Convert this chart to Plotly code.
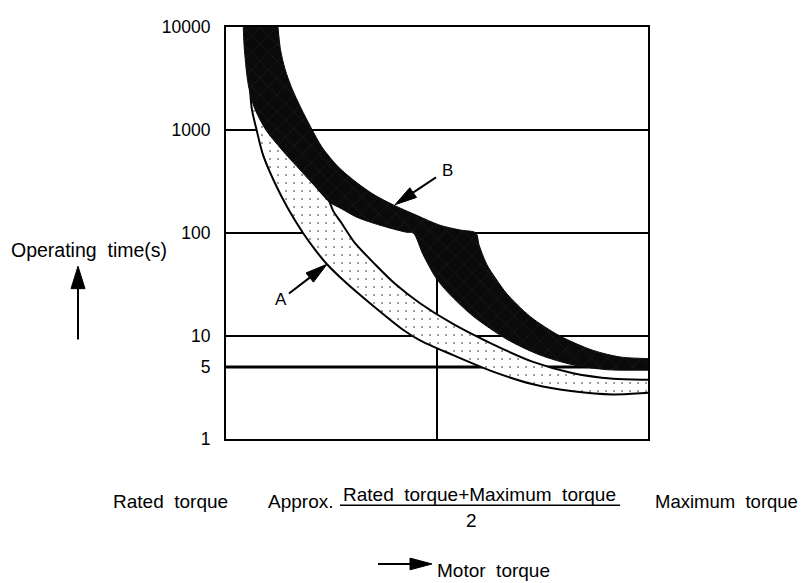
import plotly.graph_objects as go

# x: motor torque (0 = rated torque, 0.5 = approx. midpoint, 1 = maximum torque)
# y: operating time in seconds (log scale)
# (the bands run on slightly past the right frame, where they are clipped)

# Band B (black) - outer edge from top down to the right side
b_outer_x = [0.1232, 0.1291, 0.1398, 0.1564, 0.1777, 0.2014, 0.2275, 0.2654, 0.3057, 0.3483,
             0.3957, 0.4526, 0.5071, 0.5545, 0.5924,
             0.5995, 0.6178, 0.6398, 0.6652, 0.7204, 0.7915, 0.8704, 0.9336, 1.0, 1.03]
b_outer_y = [10000, 6053, 3911, 2529, 1634, 1056, 682, 441, 318, 239,
             188, 148, 119, 107, 100,
             76.9, 49.7, 35.9, 25.8, 15.5, 10.0, 7.24, 6.26, 6.03, 6.0]
# Band B - inner edge from the right side back up to the top
b_inner_x = [1.03, 1.0, 0.9028, 0.8223, 0.7441, 0.6659, 0.5853, 0.5284, 0.4976, 0.4668, 0.4438,
             0.4282, 0.3649, 0.3104, 0.2725, 0.2464, 0.2062, 0.1682, 0.1327, 0.0948,
             0.0675, 0.0545, 0.0491, 0.0427, 0.0410]
b_inner_y = [4.66, 4.66, 4.71, 5.25, 6.53, 9.27, 15.6, 25.8, 36.6, 61.9, 100,
             101.6, 119, 142, 173, 198, 298, 441, 640, 996,
             1634, 2529, 3508, 6750, 10000]

# Band A (dotted) - lower edge, left to right
a_lower_x = [0.0545, 0.0609, 0.0727, 0.0877, 0.1161, 0.1469, 0.1825, 0.2109, 0.2393,
             0.2820, 0.3412, 0.4194, 0.4597, 0.5379, 0.6327, 0.7275, 0.8223, 0.9171, 1.0, 1.03]
a_lower_y = [3911, 1634, 996, 573, 304, 173, 100, 69, 49.7,
             33.6, 20.8, 11.5, 9.06, 6.53, 4.51, 3.40, 2.91, 2.71, 2.81, 2.85]
# Band A - upper edge, right to left
a_upper_x = [1.03, 1.0, 0.9171, 0.8223, 0.7275, 0.6327, 0.5379, 0.4597, 0.4005, 0.3531,
             0.3033, 0.2725, 0.2536, 0.2441, 0.2180, 0.1801, 0.1422, 0.1043, 0.0758, 0.0640]
a_upper_y = [3.75, 3.76, 3.85, 4.35, 5.61, 8.3, 13.1, 20.8, 32.1, 49.7,
             82.2, 127, 165, 206, 304, 441, 640, 1011, 2033, 3911]

# Axis ticks / reference lines
y_ticks = [1, 5, 10, 100, 1000, 10000]
y_ticktext = ["1", "5", "10", "100", "1000", "10000"]
full_hlines = [10, 1000]
thick_hlines = [5]
hline_100_segments = [(0.0, 0.2), (0.5, 1.0)]
mid_torque = 0.5
mid_line_top = 100

FONT = "Liberation Sans, Arial, sans-serif"

fig = go.Figure()

# grid lines (drawn first so the bands cover them)
gx, gy = [], []
for v in full_hlines:
    gx += [0, 1, None]
    gy += [v, v, None]
for a, b in hline_100_segments:
    gx += [a, b, None]
    gy += [100, 100, None]
gx += [mid_torque, mid_torque, None]
gy += [1, mid_line_top, None]
fig.add_trace(go.Scatter(x=gx, y=gy, mode="lines", line=dict(color="black", width=2),
                         hoverinfo="skip", showlegend=False))
tx, ty = [], []
for v in thick_hlines:
    tx += [0, 1, None]
    ty += [v, v, None]
fig.add_trace(go.Scatter(x=tx, y=ty, mode="lines", line=dict(color="black", width=3),
                         hoverinfo="skip", showlegend=False))

# Band A
fig.add_trace(go.Scatter(
    x=a_lower_x + a_upper_x, y=a_lower_y + a_upper_y,
    mode="lines", fill="toself",
    line=dict(color="black", width=2, shape="spline", smoothing=0.8),
    fillcolor="white",
    fillpattern=dict(shape=".", fgcolor="black", bgcolor="white", size=8, solidity=0.05),
    hoverinfo="skip", showlegend=False))

# Band B
fig.add_trace(go.Scatter(
    x=b_outer_x + b_inner_x, y=b_outer_y + b_inner_y,
    mode="lines", fill="toself",
    line=dict(color="#0a0a0a", width=1, shape="spline", smoothing=0.8),
    fillcolor="#0a0a0a",
    fillpattern=dict(shape="x", fgcolor="#3c3c3c", bgcolor="#0a0a0a", size=12, solidity=0.08),
    hoverinfo="skip", showlegend=False))

shapes = []
PX = 422.0


def arrow(tail, tip, head_len=22, half_w=6, lw=2):
    (x0, y0), (x1, y1) = tail, tip
    dx, dy = (x1 - x0) * PX, (y1 - y0) * PX
    L = (dx * dx + dy * dy) ** 0.5
    ux, uy = dx / L, dy / L
    bx, by = x1 - ux * head_len / PX, y1 - uy * head_len / PX
    nx, ny = -uy * half_w / PX, ux * half_w / PX
    shapes.append(dict(type="line", xref="paper", yref="paper", x0=x0, y0=y0,
                       x1=bx + ux * 2 / PX, y1=by + uy * 2 / PX,
                       line=dict(color="black", width=lw)))
    path = f"M {x1},{y1} L {bx + nx},{by + ny} L {bx - nx},{by - ny} Z"
    shapes.append(dict(type="path", xref="paper", yref="paper", path=path,
                       fillcolor="black", line=dict(color="black", width=1)))


arrow((0.4976, 0.6351), (0.4005, 0.5687))      # B
arrow((0.1493, 0.3531), (0.2393, 0.4242))      # A
arrow((-0.3507, 0.2417), (-0.3507, 0.4194), head_len=23, half_w=7)  # operating time
arrow((0.3602, -0.3033), (0.4882, -0.3033), head_len=22, half_w=6)  # motor torque

# fraction bar
shapes.append(dict(type="line", xref="paper", yref="paper", x0=0.270, x1=0.934,
                   y0=-0.161, y1=-0.161, line=dict(color="black", width=1.5)))

annotations = []


def label(text, x, y, size=19, xanchor="center"):
    annotations.append(dict(text=text, x=x, y=y, xref="paper", yref="paper",
                            showarrow=False, xanchor=xanchor, yanchor="middle",
                            font=dict(family=FONT, size=size, color="black")))


label("B", 0.524, 0.652, size=17)
label("A", 0.130, 0.339, size=17)
label("Operating  time(s)", -0.3246, 0.4597, size=19.5)
label("Rated  torque", -0.1327, -0.1517)
label("Approx.", 0.1777, -0.1517)
label("Rated  torque+Maximum  torque", 0.6007, -0.135)
label("2", 0.582, -0.198)
label("Maximum  torque", 1.187, -0.1517, size=18.5)
label("Motor  torque", 0.633, -0.318)

# The page body has an 8px margin; the figure is offset so the plot
# lands at the same window position as the reference.
fig.update_layout(
    width=807, height=575, autosize=False,
    margin=dict(l=218, r=167, t=9, b=144, pad=0),
    plot_bgcolor="white", paper_bgcolor="white",
    shapes=shapes, annotations=annotations,
    showlegend=False,
    xaxis=dict(range=[0, 1], showgrid=False, zeroline=False, showticklabels=False,
               ticks="", showline=True, mirror=True, linecolor="black", linewidth=2,
               fixedrange=True),
    yaxis=dict(type="log", range=[0, 4], showgrid=False, zeroline=False,
               tickmode="array", tickvals=y_ticks, ticktext=y_ticktext, ticks="",
               ticklabelstandoff=10,
               tickfont=dict(family=FONT, size=17.5, color="black"),
               showline=True, mirror=True, linecolor="black", linewidth=2,
               fixedrange=True),
)

fig.write_html("out.html")
